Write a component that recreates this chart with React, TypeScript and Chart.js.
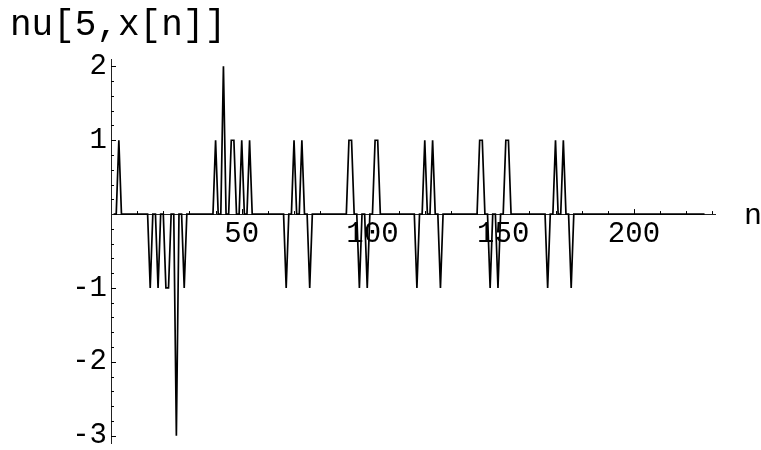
import React, { useEffect, useRef } from "react";
import { Chart, registerables } from "chart.js";

Chart.register(...registerables);

// ---- data ----
const N_FIRST = 1;
const N_LAST = 227;
// indices n where nu[5,x[n]] is non-zero, and the value there (all other n are 0)
const spikeN = [3, 15, 18, 21, 22, 25, 28, 40, 43, 46, 47, 50, 53, 67, 70, 73, 76, 91, 92, 95, 98, 101, 102, 117, 120, 123, 126, 141, 142, 145, 148, 151, 152, 167, 170, 173, 176];
const spikeV = [1, -1, -1, -1, -1, -3, -1, 1, 2, 1, 1, 1, 1, -1, 1, 1, -1, 1, 1, -1, -1, 1, 1, -1, 1, 1, -1, 1, 1, -1, -1, 1, 1, -1, 1, 1, -1];
const xTickLabels = [50, 100, 150, 200];
const yTickLabels = [-3, -2, -1, 1, 2];
const yLabel = "nu[5,x[n]]";
const xLabel = "n";

const MONO = "'Liberation Mono', 'DejaVu Sans Mono', monospace";

export default function App() {
  const ref = useRef<HTMLCanvasElement | null>(null);

  useEffect(() => {
    document.body.style.margin = "0";
    const canvas = ref.current;
    if (!canvas) return;

    const lookup = new Map<number, number>();
    spikeN.forEach((n, i) => lookup.set(n, spikeV[i]));
    const points: { x: number; y: number }[] = [];
    for (let n = N_FIRST; n <= N_LAST; n++) {
      points.push({ x: n, y: lookup.has(n) ? (lookup.get(n) as number) : 0 });
    }

    const decor = {
      id: "mmaDecor",
      afterDraw(chart: any) {
        const { ctx, chartArea, scales } = chart;
        const x = scales.x;
        const y = scales.y;
        const y0 = y.getPixelForValue(0);
        ctx.save();
        ctx.strokeStyle = "#000";
        ctx.lineWidth = 1;
        ctx.beginPath();
        for (let v = 10; v <= 230; v += 10) {
          const px = Math.round(x.getPixelForValue(v)) + 0.5;
          const len = v % 50 === 0 ? 5 : 3;
          ctx.moveTo(px, y0);
          ctx.lineTo(px, y0 - len);
        }
        for (let k = -15; k <= 10; k++) {
          if (k === 0) continue;
          const py = Math.round(y.getPixelForValue(k * 0.2)) + 0.5;
          const len = k % 5 === 0 ? 5 : 3;
          ctx.moveTo(chartArea.left, py);
          ctx.lineTo(chartArea.left + len, py);
        }
        ctx.stroke();

        ctx.fillStyle = "#000";
        ctx.font = `36px ${MONO}`;
        ctx.textAlign = "left";
        ctx.textBaseline = "alphabetic";
        ctx.fillText(yLabel, 10, 35);

        ctx.font = `30px ${MONO}`;
        ctx.textAlign = "center";
        ctx.fillText(xLabel, 753, y0 + 10);
        ctx.restore();
      },
    };

    const chart = new Chart(canvas, {
      type: "line",
      data: {
        datasets: [
          {
            data: points,
            borderColor: "#000",
            borderWidth: 1.7,
            pointRadius: 0,
            tension: 0,
            fill: false,
          },
        ],
      },
      options: {
        animation: false,
        responsive: false,
        devicePixelRatio: 1,
        parsing: false as any,
        layout: { padding: { top: 59, right: 46, bottom: 7, left: 0 } },
        plugins: {
          legend: { display: false },
          title: { display: false },
          tooltip: { enabled: false },
        },
        scales: {
          x: {
            type: "linear",
            min: 0,
            max: 231,
            position: { y: 0 } as any,
            grid: { display: true, drawOnChartArea: false, drawTicks: false },
            border: { display: true, color: "#222", width: 1 },
            ticks: {
              stepSize: 50,
              includeBounds: false,
              autoSkip: false,
              maxRotation: 0,
              padding: 3,
              color: "#000",
              font: { family: MONO, size: 29 },
              callback: (v: any) => (xTickLabels.includes(Number(v)) ? String(v) : ""),
            },
            afterFit: (s: any) => {
              s.height = 0;
              s.paddingLeft = 0;
              s.paddingRight = 0;
            },
          },
          y: {
            type: "linear",
            min: -3.1,
            max: 2.1,
            grid: { display: true, drawOnChartArea: false, drawTicks: false },
            border: { display: true, color: "#222", width: 1 },
            ticks: {
              stepSize: 1,
              includeBounds: false,
              autoSkip: false,
              padding: 4,
              color: "#000",
              font: { family: MONO, size: 29 },
              callback: (v: any) => (yTickLabels.includes(Number(v)) ? String(v) : ""),
            },
            afterFit: (s: any) => {
              s.width = 111;
              s.paddingTop = 0;
              s.paddingBottom = 0;
            },
          },
        },
      },
      plugins: [decor],
    });

    return () => chart.destroy();
  }, []);

  return (
    <div style={{ width: 761, height: 450, background: "#fff" }}>
      <canvas ref={ref} width={761} height={450} />
    </div>
  );
}
